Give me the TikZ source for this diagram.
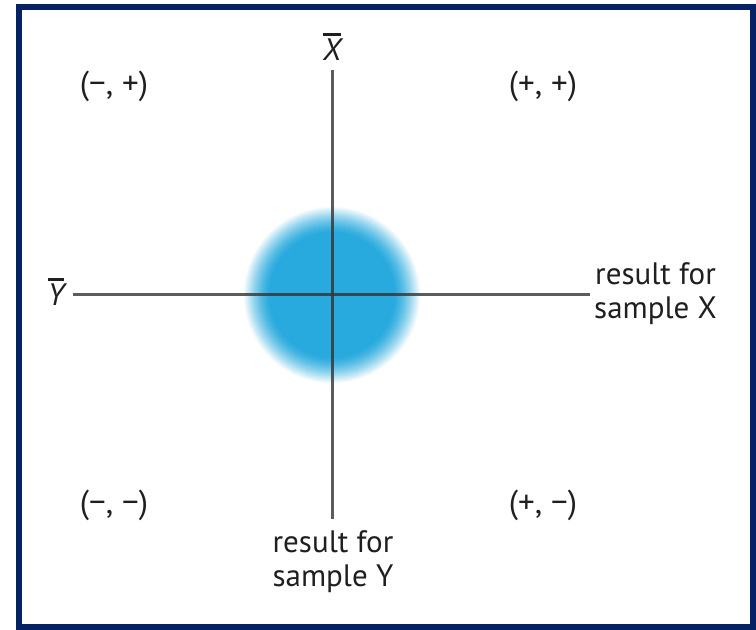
\documentclass[tikz,border=0pt]{standalone}
\usepackage{fontspec}
\setmainfont{PT Sans}
\usetikzlibrary{positioning}
\definecolor{framenavy}{RGB}{4,34,100}
\definecolor{spotblue}{RGB}{40,170,222}
\newcommand{\barlbl}[1]{\setbox0\hbox{\itshape #1}\vbox{\hrule height 2.6pt width \wd0 \vskip 3.5pt\box0}}

\begin{document}
\begin{tikzpicture}[x=1pt,y=-1pt,
 lbl/.style={font=\fontsize{31}{34}\selectfont,text=black!88,align=center,inner sep=0pt},
 quad/.style={lbl,font=\fontsize{33}{34}\selectfont},
 axis/.style={line width=3pt,draw=black!80,draw opacity=0.8}]
\useasboundingbox (0,0) rectangle (756,630);
\draw[framenavy,line width=6pt] (19,7) rectangle (753,627);
% the spread of results: soft rim, solid core
\foreach \r in {89,88,...,62}{
 \pgfmathsetmacro{\pct}{100*(1-((\r-62)/27)^1.4)}
 \fill[spotblue!\pct!white] (332,295) circle (\r);
}
% axes
\coordinate (top) at (332,70);
\coordinate (bot) at (332,519);
\coordinate (lft) at (73,294);
\coordinate (rgt) at (590,294);
\draw[axis] (top)--(bot);
\draw[axis] (lft)--(rgt);
\node[lbl] (xbar) at (332,47) {\barlbl{X}};
\node[lbl] (ybar) at (56,292) {\barlbl{Y}};
\node[lbl,anchor=west] (resx) at (594,294) {result for\\sample X};
\node[lbl] (resy) at (333,562) {result for\\sample Y};
% quadrants
\node[quad] (mp) at (114,86) {(−, +)};
\node[quad] (pp) at (543,86) {(+, +)};
\node[quad] (mm) at (114,505) {(−, −)};
\node[quad] (pm) at (543,505) {(+, −)};
\end{tikzpicture}
\end{document}
